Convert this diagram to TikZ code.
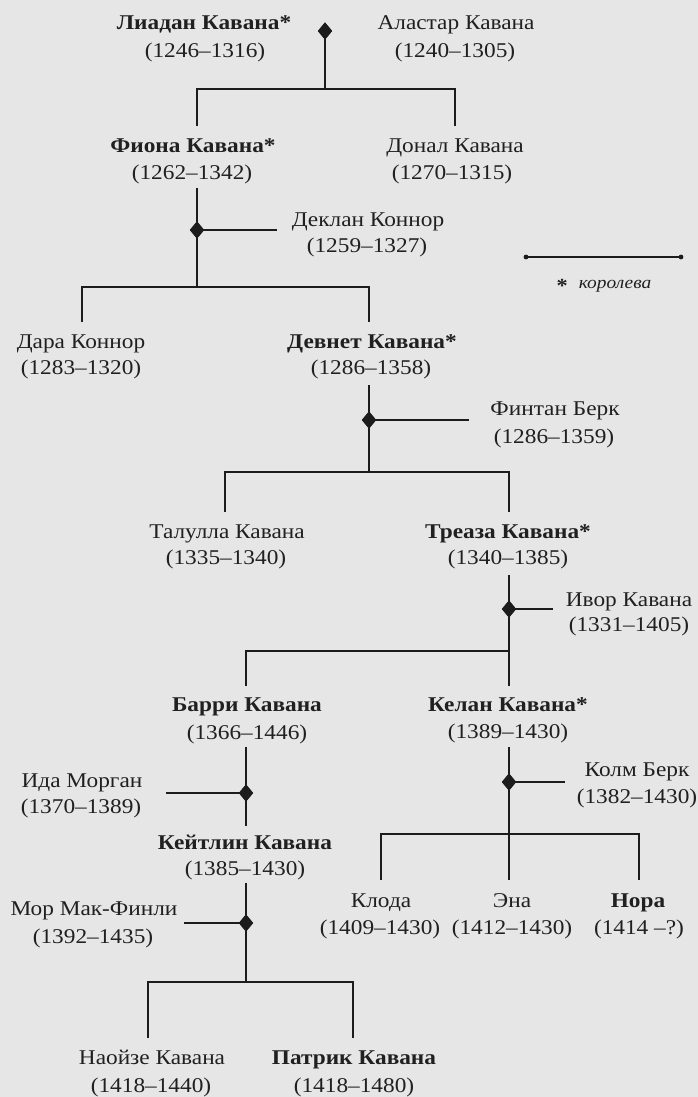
\documentclass[tikz,border=0pt]{standalone}
\usepackage{fontspec}
\setmainfont{Liberation Serif}[FakeStretch=1.11]
\usetikzlibrary{shapes.geometric}
\definecolor{bgcol}{RGB}{230,230,230}
\definecolor{linecol}{RGB}{28,28,28}
\definecolor{txtcol}{RGB}{32,32,32}
\tikzset{
  person/.style={anchor=base, inner sep=0pt, text=txtcol, font=\fontsize{21}{24}\selectfont},
  royal/.style={person, font=\fontsize{21}{24}\selectfont\bfseries},
  link/.style={draw=linecol, line width=1.4pt},
  wed/.style={diamond, fill=linecol, inner sep=0pt, minimum width=14pt, minimum height=17pt},
}
\begin{document}
\begin{tikzpicture}[x=1pt, y=-1pt]
\fill[bgcol] (0,0) rectangle (698,1097);
\useasboundingbox (0,0) rectangle (698,1097);

% ---------- people ----------
\node[royal]  (liadan)   at (204,30)  {Лиадан Кавана*};
\node[person] (liadanD)  at (205,58)  {(1246–1316)};
\node[person] (alastar)  at (456,30)  {Аластар Кавана};
\node[person] (alastarD) at (455,58)  {(1240–1305)};

\node[royal]  (fiona)    at (193,152) {Фиона Кавана*};
\node[person] (fionaD)   at (192,179) {(1262–1342)};
\node[person] (donal)    at (455,152) {Донал Кавана};
\node[person] (donalD)   at (452,179) {(1270–1315)};

\node[person] (declan)   at (368,226) {Деклан Коннор};
\node[person] (declanD)  at (367,252) {(1259–1327)};

\node[person] (dara)     at (81,348)  {Дара Коннор};
\node[person] (daraD)    at (81,374)  {(1283–1320)};
\node[royal]  (devnet)   at (372,348) {Девнет Кавана*};
\node[person] (devnetD)  at (371,374) {(1286–1358)};

\node[person] (fintan)   at (555,415) {Финтан Берк};
\node[person] (fintanD)  at (554,443) {(1286–1359)};

\node[person] (talulla)  at (227,538) {Талулла Кавана};
\node[person] (talullaD) at (226,564) {(1335–1340)};
\node[royal]  (treaza)   at (508,538) {Треаза Кавана*};
\node[person] (treazaD)  at (508,564) {(1340–1385)};

\node[person] (ivor)     at (629,606) {Ивор Кавана};
\node[person] (ivorD)    at (629,631) {(1331–1405)};

\node[royal]  (barri)    at (247,711) {Барри Кавана};
\node[person] (barriD)   at (247,739) {(1366–1446)};
\node[royal]  (kelan)    at (508,711) {Келан Кавана*};
\node[person] (kelanD)   at (508,738) {(1389–1430)};

\node[person] (ida)      at (82,787)  {Ида Морган};
\node[person] (idaD)     at (81,813)  {(1370–1389)};
\node[person] (colm)     at (637,776) {Колм Берк};
\node[person] (colmD)    at (637,803) {(1382–1430)};

\node[royal]  (kaitlin)  at (245,849) {Кейтлин Кавана};
\node[person] (kaitlinD) at (245,875) {(1385–1430)};

\node[person] (mor)      at (94,915)  {Мор Мак-Финли};
\node[person] (morD)     at (93,943)  {(1392–1435)};

\node[person] (cloda)    at (381,907) {Клода};
\node[person] (clodaD)   at (380,934) {(1409–1430)};
\node[person] (ena)      at (512,907) {Эна};
\node[person] (enaD)     at (512,934) {(1412–1430)};
\node[royal]  (nora)     at (638,907) {Нора};
\node[person] (noraD)    at (639,934) {(1414 –?)};

\node[person] (naoise)   at (152,1064) {Наойзе Кавана};
\node[person] (naoiseD)  at (151,1092) {(1418–1440)};
\node[royal]  (patrik)   at (354,1064) {Патрик Кавана};
\node[person] (patrikD)  at (354,1092) {(1418–1480)};

% ---------- junction points ----------
\coordinate (j1) at (325,89);
\coordinate (fionaT) at (197,126);
\coordinate (donalT) at (455,126);

\coordinate (fionaB) at (197,188);
\coordinate (j2) at (197,287);
\coordinate (declanL) at (277,230);
\coordinate (daraT) at (82,322);
\coordinate (devnetT) at (369,322);

\coordinate (devnetB) at (369,385);
\coordinate (j3) at (369,472);
\coordinate (fintanL) at (469,420);
\coordinate (talullaT) at (225,512);
\coordinate (treazaT) at (509,512);

\coordinate (treazaB) at (509,575);
\coordinate (j4) at (509,651);
\coordinate (ivorL) at (553,609);
\coordinate (barriT) at (246,686);
\coordinate (kelanT) at (509,686);

\coordinate (barriB) at (246,747);
\coordinate (kaitlinT) at (246,826);
\coordinate (idaR) at (166,793);

\coordinate (kaitlinB) at (246,883);
\coordinate (j6) at (246,982);
\coordinate (morR) at (184,923);
\coordinate (naoiseT) at (148,1038);
\coordinate (patrikT) at (353,1038);

\coordinate (kelanB) at (509,747);
\coordinate (enaT) at (509,880);
\coordinate (j7) at (509,834);
\coordinate (colmL) at (565,782);
\coordinate (clodaT) at (381,880);
\coordinate (noraT) at (639,880);

% ---------- marriage marks ----------
\path (325,31) node[wed] (m1) {}
      (197,230) node[wed] (m2) {}
      (369,420) node[wed] (m3) {}
      (509,609) node[wed] (m4) {}
      (246,793) node[wed] (m5) {}
      (246,923) node[wed] (m6) {}
      (509,782) node[wed] (m7) {};

% ---------- connectors ----------
\draw[link] (m1.center) -- (j1);
\draw[link] (fionaT) |- (j1) -| (donalT);

\draw[link] (fionaB) -- (j2);
\draw[link] (m2.center) -- (declanL);
\draw[link] (daraT) |- (j2) -| (devnetT);

\draw[link] (devnetB) -- (j3);
\draw[link] (m3.center) -- (fintanL);
\draw[link] (talullaT) |- (j3) -| (treazaT);

\draw[link] (treazaB) -- (kelanT);
\draw[link] (m4.center) -- (ivorL);
\draw[link] (barriT) |- (j4);

\draw[link] (barriB) -- (kaitlinT);
\draw[link] (idaR) -- (m5.center);

\draw[link] (kaitlinB) -- (j6);
\draw[link] (morR) -- (m6.center);
\draw[link] (naoiseT) |- (j6) -| (patrikT);

\draw[link] (kelanB) -- (enaT);
\draw[link] (m7.center) -- (colmL);
\draw[link] (clodaT) |- (j7) -| (noraT);

% diamonds on top of the lines
\foreach \m in {m1,m2,m3,m4,m5,m6,m7}
  \fill[linecol] (\m.north) -- (\m.east) -- (\m.south) -- (\m.west) -- cycle;

% ---------- legend ----------
\coordinate (legA) at (526,257);
\coordinate (legB) at (681,257);
\draw[link] (legA) -- (legB);
\fill[linecol] (legA) circle (2.4pt) (legB) circle (2.4pt);
\node[anchor=base, inner sep=0pt, text=txtcol, font=\fontsize{17.5}{20}\selectfont] (legtext) at (604,288)
  {\raisebox{-4pt}{\bfseries\fontsize{20}{20}\selectfont*}\hspace{11pt}\itshape королева};
\end{tikzpicture}
\end{document}
